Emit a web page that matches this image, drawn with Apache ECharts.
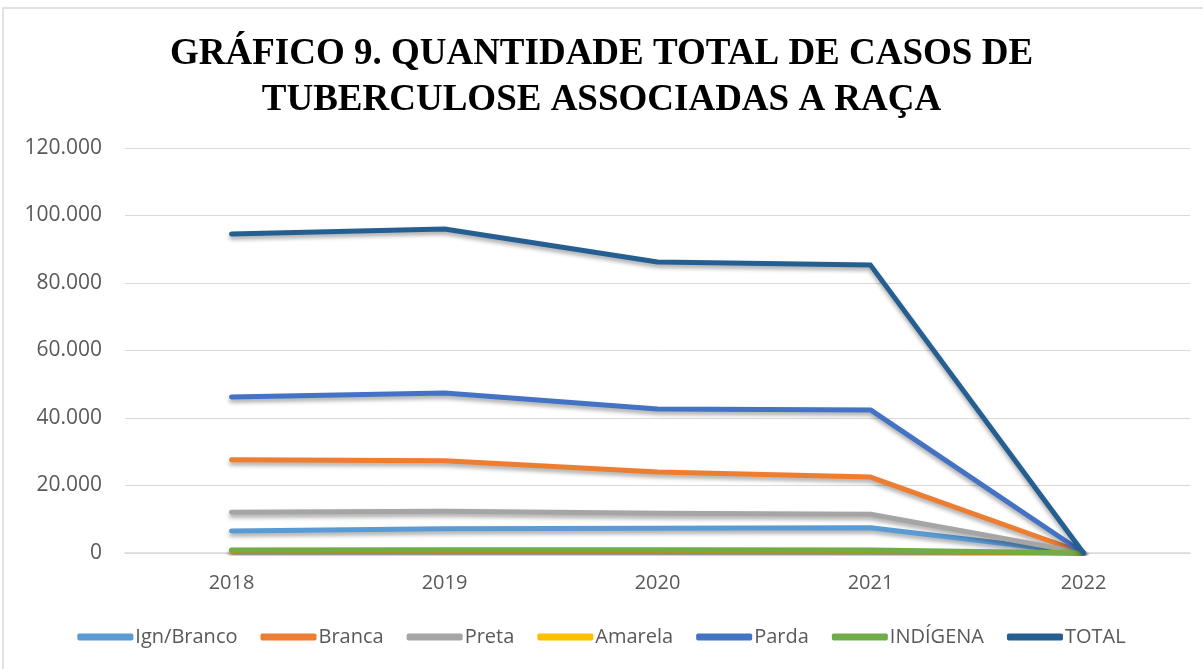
<!DOCTYPE html>
<html>
<head>
<meta charset="utf-8">
<script src="https://cdn.jsdelivr.net/npm/echarts@6/dist/echarts.min.js"></script>
<style>
  html, body { margin: 0; padding: 0; background: #fff; }
  #chart { width: 1203px; height: 669px; }
</style>
</head>
<body>
<div id="chart"></div>
<script>
// dados
const anos = ['2018', '2019', '2020', '2021', '2022'];
const ignBranco = [6500, 7200, 7300, 7500, 0];
const branca = [27600, 27300, 24000, 22500, 0];
const preta = [12100, 12400, 11800, 11500, 0];
const amarela = [500, 500, 500, 450, 0];
const parda = [46200, 47400, 42700, 42400, 0];
const indigena = [900, 950, 950, 900, 0];
const total = [94500, 96000, 86200, 85300, 0];

const cores = ['#5B9BD5', '#ED7D31', '#A5A5A5', '#FFC000', '#4472C4', '#70AD47', '#255E91'];

function serie(nome, dados) {
  return {
    name: nome,
    type: 'line',
    data: dados,
    symbol: 'none',
    lineStyle: {
      width: 5,
      cap: 'round',
      join: 'round',
      shadowColor: 'rgba(0,0,0,0.35)',
      shadowBlur: 4,
      shadowOffsetY: 3
    }
  };
}

const chart = echarts.init(document.getElementById('chart'));
chart.setOption({
  animation: false,
  color: cores,
  title: {
    text: 'GRÁFICO 9. QUANTIDADE TOTAL DE CASOS DE\nTUBERCULOSE ASSOCIADAS A RAÇA',
    left: 'center',
    top: 26,
    textStyle: {
      fontFamily: 'Liberation Serif',
      fontWeight: 'bold',
      fontSize: 37,
      lineHeight: 46,
      color: '#000'
    }
  },
  graphic: [{
    type: 'rect',
    shape: { x: 3, y: 8, width: 1220, height: 680 },
    style: { fill: 'none', stroke: '#d9d9d9', lineWidth: 1.5 },
    silent: true
  }],
  legend: {
    bottom: 17,
    left: 'center',
    itemWidth: 56,
    itemHeight: 7,
    itemGap: 23,
    icon: 'roundRect',
    textStyle: { fontFamily: 'Open Sans', fontSize: 20, color: '#595959', padding: [0, 0, 0, -3] },
    data: ['Ign/Branco', 'Branca', 'Preta', 'Amarela', 'Parda', 'INDÍGENA', 'TOTAL']
  },
  grid: { left: 125, right: 13, top: 148, bottom: 116 },
  xAxis: {
    type: 'category',
    data: anos,
    axisLine: { lineStyle: { color: '#d9d9d9', width: 1.5 } },
    axisTick: { show: false },
    axisLabel: { color: '#595959', fontFamily: 'Open Sans', fontSize: 20, margin: 20 }
  },
  yAxis: {
    type: 'value',
    min: 0,
    max: 120000,
    interval: 20000,
    axisLine: { show: false },
    axisTick: { show: false },
    splitLine: { lineStyle: { color: '#d9d9d9', width: 1 } },
    axisLabel: {
      color: '#595959',
      fontFamily: 'Open Sans',
      fontSize: 21,
      margin: 23,
      formatter: v => v === 0 ? '0' : (v / 1000).toFixed(0) + '.000'
    }
  },
  series: [
    serie('Ign/Branco', ignBranco),
    serie('Branca', branca),
    serie('Preta', preta),
    serie('Amarela', amarela),
    serie('Parda', parda),
    serie('INDÍGENA', indigena),
    serie('TOTAL', total)
  ]
});
</script>
</body>
</html>
